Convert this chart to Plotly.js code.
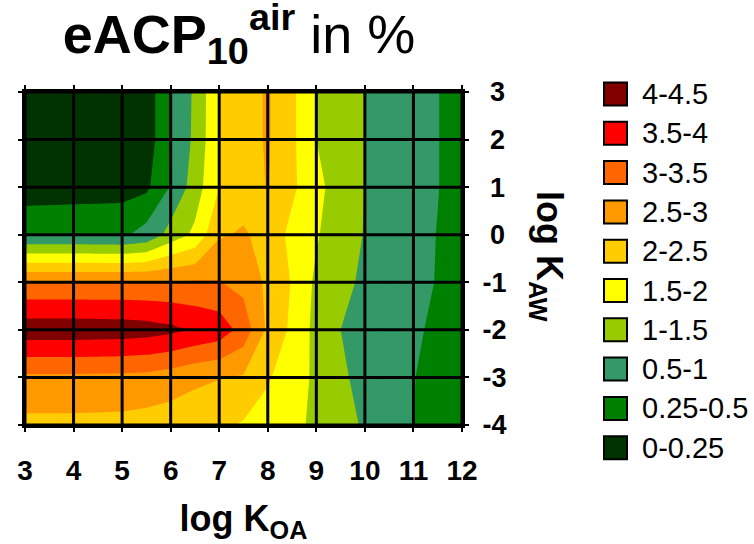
<!DOCTYPE html>
<html>
<head>
<meta charset="utf-8">
<script src="https://cdn.plot.ly/plotly-3.0.1.min.js"></script>
<style>
html,body{margin:0;padding:0;background:#ffffff;}
#chart{width:754px;height:544px;}
</style>
</head>
<body>
<div id="chart"></div>
<script>
// ---- data ----
const logKOA = [3, 4, 5, 5.5, 6, 6.5, 7, 7.5, 8, 8.5, 9, 9.5, 10, 10.5, 11, 11.5, 12];
const logKAW = [-4, -3, -2, -1, 0, 1, 2, 3];

// eACP10air (%), one row per log KAW value
const eACP_kawM4 = [2.37, 2.37, 2.35, 2.3, 2.25, 2.2, 2.1, 1.95, 1.8, 1.6, 1.42, 1.15, 0.95, 0.75, 0.5, 0.38, 0.3];
const eACP_kawM3 = [2.9, 2.9, 2.88, 2.85, 2.75, 2.6, 2.52, 2.45, 2.05, 1.75, 1.4, 1.08, 0.85, 0.7, 0.51, 0.4, 0.3];
const eACP_kawM2 = [4.3, 4.3, 4.27, 4.22, 4.12, 3.95, 3.8, 3.3, 2.4, 1.9, 1.35, 1.0, 0.85, 0.72, 0.58, 0.4, 0.3];
const eACP_kawM1 = [3.05, 3.05, 3.05, 3.05, 3.05, 3.05, 3.02, 2.85, 2.4, 1.97, 1.4, 1.15, 0.9, 0.75, 0.62, 0.48, 0.35];
const eACP_kaw0  = [0.48, 0.48, 0.45, 0.6, 1.2, 1.6, 2.45, 2.55, 2.35, 1.85, 1.55, 1.2, 0.98, 0.8, 0.62, 0.49, 0.36];
const eACP_kaw1  = [0.1, 0.12, 0.15, 0.2, 0.52, 1.25, 2.0, 2.3, 2.52, 2.1, 1.62, 1.3, 0.99, 0.8, 0.65, 0.51, 0.36];
const eACP_kaw2  = [0.05, 0.05, 0.05, 0.1, 0.51, 1.1, 2.0, 2.3, 2.55, 2.1, 1.5, 1.25, 0.99, 0.8, 0.65, 0.51, 0.35];
const eACP_kaw3  = [0.05, 0.05, 0.05, 0.1, 0.51, 1.08, 2.0, 2.3, 2.55, 2.1, 1.5, 1.25, 0.99, 0.8, 0.65, 0.51, 0.35];

const levelBounds = [0, 0.25, 0.5, 1, 1.5, 2, 2.5, 3, 3.5, 4, 4.5];
const levelLabels = ['0-0.25', '0.25-0.5', '0.5-1', '1-1.5', '1.5-2', '2-2.5', '2.5-3', '3-3.5', '3.5-4', '4-4.5'];
const levelColors = ['#003300', '#008000', '#339966', '#99CC00', '#FFFF00', '#FFCC00', '#FF9900', '#FF6600', '#FF0000', '#800000'];

const xTicks = [3, 4, 5, 6, 7, 8, 9, 10, 11, 12];
const yTicks = [3, 2, 1, 0, -1, -2, -3, -4];

// ---- build ----
const FONT = 'Liberation Sans, Arial, Helvetica, sans-serif';
const zRows = [eACP_kawM4, eACP_kawM3, eACP_kawM2, eACP_kawM1, eACP_kaw0, eACP_kaw1, eACP_kaw2, eACP_kaw3];

// contour bands of 0.25; the colour of each band follows the legend classes
const cStart = 0.25, cEnd = 4.25, cSize = 0.25;
const nBands = Math.round((cEnd - cStart) / cSize) + 2;
const colorscale = [];
for (let k = 0; k < nBands; k++) {
  const mid = cStart - cSize / 2 + k * cSize;
  let idx = levelColors.length - 1;
  for (let i = 0; i < levelColors.length; i++) {
    if (mid >= levelBounds[i] && mid < levelBounds[i + 1]) { idx = i; break; }
  }
  colorscale.push([k / (nBands - 1), levelColors[idx]]);
}

const contour = {
  type: 'contour',
  x: logKOA,
  y: logKAW,
  z: zRows,
  autocontour: false,
  contours: {start: cStart, end: cEnd, size: cSize, coloring: 'fill', showlines: false},
  line: {width: 0, smoothing: 0},
  colorscale: colorscale,
  showscale: false,
  hoverinfo: 'skip'
};

// black grid drawn over the filled contours
const xMin = xTicks[0], xMax = xTicks[xTicks.length - 1];
const yMin = Math.min(...yTicks), yMax = Math.max(...yTicks);
const gx = [], gy = [];
xTicks.forEach(v => { gx.push(v, v, null); gy.push(yMin, yMax, null); });
yTicks.forEach(v => { gx.push(xMin, xMax, null); gy.push(v, v, null); });
const grid = {
  type: 'scatter', mode: 'lines', x: gx, y: gy,
  line: {color: '#000000', width: 3}, hoverinfo: 'skip', showlegend: false,
  cliponaxis: false
};

// plot area in pixels
const L = 25, R = 462, T = 92, B = 425, W = 754, H = 544;
const px2paperX = p => (p - L) / (R - L);
const px2paperY = p => (B - p) / (B - T);

const shapes = [];
const annotations = [];
// y axis title, reading top to bottom
annotations.push({xref: 'paper', yref: 'paper', x: px2paperX(547), y: px2paperY(256),
  text: '<b>log K<sub>AW</sub></b>', textangle: 90, showarrow: false,
  xanchor: 'center', yanchor: 'middle', font: {family: FONT, size: 36, color: '#000000'}});

// legend (top: highest class)
for (let i = 0; i < levelLabels.length; i++) {
  const j = levelLabels.length - 1 - i;
  const cy = 94 + 39.3 * i;
  shapes.push({type: 'rect', xref: 'paper', yref: 'paper',
    x0: px2paperX(604), x1: px2paperX(627), y0: px2paperY(cy + 11.5), y1: px2paperY(cy - 11.5),
    fillcolor: levelColors[j], line: {color: '#000000', width: 2}});
  annotations.push({xref: 'paper', yref: 'paper', x: px2paperX(640), y: px2paperY(cy),
    text: levelLabels[j], showarrow: false, xanchor: 'left', yanchor: 'middle',
    font: {family: FONT, size: 29, color: '#000000'}});
}

// y tick labels right-aligned: pad non-negative values with a no-break space
const yTickText = yTicks.map(v => (v >= 0 ? '\u00A0' : '') + String(v));

const layout = {
  width: W, height: H,
  margin: {l: L, r: W - R, t: T, b: H - B, pad: 0},
  paper_bgcolor: '#ffffff', plot_bgcolor: '#ffffff',
  showlegend: false,
  title: {
    text: '<b>eACP<sub>10</sub><sup>air</sup></b> in %',
    font: {family: FONT, size: 54, color: '#000000'},
    xref: 'container', yref: 'container',
    x: 239 / W, xanchor: 'center',
    y: 1 - 34 / H, yanchor: 'middle'
  },
  xaxis: {
    range: [3, 12], tickvals: xTicks, ticktext: xTicks.map(String),
    showgrid: false, zeroline: false,
    showline: true, linewidth: 3, linecolor: '#000000', mirror: 'ticks',
    ticks: 'outside', ticklen: 4, tickwidth: 2, tickcolor: '#000000',
    tickfont: {family: FONT, size: 28, color: '#000000', weight: 'bold'},
    ticklabelstandoff: 14,
    title: {text: '<b>log K<sub>OA</sub></b>', font: {family: FONT, size: 36, color: '#000000'}, standoff: 24},
    fixedrange: true
  },
  yaxis: {
    range: [-4, 3], tickvals: yTicks, ticktext: yTickText, side: 'right',
    showgrid: false, zeroline: false,
    showline: true, linewidth: 3, linecolor: '#000000', mirror: 'ticks',
    ticks: 'outside', ticklen: 4, tickwidth: 2, tickcolor: '#000000',
    tickfont: {family: FONT, size: 27, color: '#000000', weight: 'bold'},
    ticklabelstandoff: 8,
    fixedrange: true
  },
  shapes: shapes,
  annotations: annotations
};

Plotly.newPlot('chart', [contour, grid], layout, {displayModeBar: false, staticPlot: true});
</script>
</body>
</html>
